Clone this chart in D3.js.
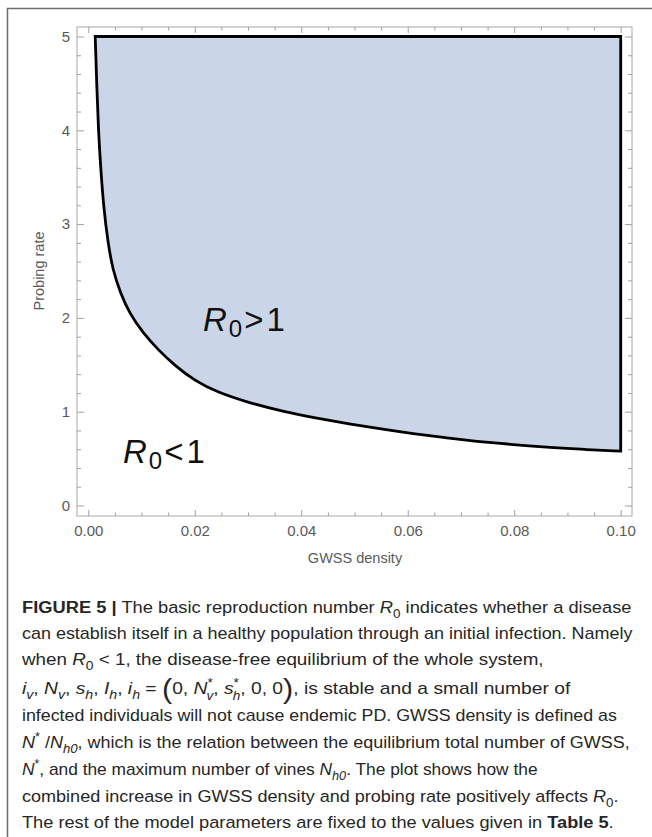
<!DOCTYPE html>
<html>
<head>
<meta charset="utf-8">
<script src="https://cdn.jsdelivr.net/npm/d3@7"></script>
<style>
  html, body { margin: 0; padding: 0; background: #fff; }
  svg { display: block; font-family: "Liberation Sans", Arial, sans-serif; }
</style>
</head>
<body>
<svg id="graf" width="652" height="837"></svg>
<script>
// threshold curve R0 = 1
let gwssDensity = [0.0013, 0.0016, 0.0019, 0.00235, 0.0029, 0.0037, 0.0046, 0.0060, 0.0078,
                   0.0103, 0.0131, 0.0163, 0.0200, 0.0241, 0.0305, 0.0367, 0.0430, 0.0490,
                   0.0550, 0.0610, 0.0673, 0.0736, 0.0798, 0.0861, 0.0923, 0.1000]
let probingRate = [5.00, 4.46, 4.00, 3.58, 3.17, 2.80, 2.51, 2.27, 2.04,
                   1.84, 1.66, 1.49, 1.33, 1.21, 1.09, 1.00, 0.93, 0.87,
                   0.815, 0.765, 0.72, 0.68, 0.65, 0.62, 0.60, 0.58]
let xMajor = [0, 0.02, 0.04, 0.06, 0.08, 0.10]
let xLabels = ['0.00', '0.02', '0.04', '0.06', '0.08', '0.10']
let yMajor = [0, 1, 2, 3, 4, 5]
let yLabels = ['0', '1', '2', '3', '4', '5']
let rTop = 5

function graficar() {
  let svg = d3.select('#graf')
  let frame = {left: 77, right: 632, top: 27, bottom: 516}

  let x = d3.scaleLinear().domain([0, 0.1]).range([88.3, 620.7])
  let y = d3.scaleLinear().domain([0, 5]).range([505.5, 36.5])

  // outer figure border
  svg.append('path')
    .attr('d', 'M7.5,837 V8.5 H652')
    .attr('fill', 'none')
    .attr('stroke', '#6e6e6e')
    .attr('stroke-width', 1.5)

  let datos = gwssDensity.map((d, i) => ({gx: d, pr: probingRate[i]}))

  let area = d3.area()
    .x(d => x(d.gx))
    .y0(y(rTop))
    .y1(d => y(d.pr))
    .curve(d3.curveBasis)

  svg.append('path')
    .datum(datos)
    .attr('d', area)
    .attr('fill', '#cad6e7')
    .attr('stroke', '#000')
    .attr('stroke-width', 2.8)
    .attr('stroke-linejoin', 'miter')

  // frame
  svg.append('rect')
    .attr('x', frame.left).attr('y', frame.top)
    .attr('width', frame.right - frame.left)
    .attr('height', frame.bottom - frame.top)
    .attr('fill', 'none')
    .attr('stroke', '#a8a8a8')
    .attr('stroke-width', 1)

  let xMinor = d3.range(0, 0.1001, 0.005).filter(v => !xMajor.some(m => Math.abs(m - v) < 1e-6))
  let yMinor = d3.range(0, 5.001, 0.2).filter(v => !yMajor.some(m => Math.abs(m - v) < 1e-6))

  function ejes(g, ax) {
    g.call(ax)
    g.select('.domain').remove()
    g.selectAll('line').attr('stroke', '#a0a0a0')
    g.selectAll('text').attr('fill', '#5a5a5a').attr('font-size', 15)
  }

  svg.append('g').attr('transform', `translate(0,${frame.bottom})`)
    .call(g => ejes(g, d3.axisBottom(x).tickValues(xMajor).tickSize(-6).tickPadding(9)
      .tickFormat((d, i) => xLabels[i])))
  svg.append('g').attr('transform', `translate(0,${frame.bottom})`)
    .call(g => ejes(g, d3.axisBottom(x).tickValues(xMinor).tickSize(-3.5).tickFormat('')))
  svg.append('g').attr('transform', `translate(0,${frame.top})`)
    .call(g => ejes(g, d3.axisTop(x).tickValues(xMajor).tickSize(-6).tickFormat('')))
  svg.append('g').attr('transform', `translate(0,${frame.top})`)
    .call(g => ejes(g, d3.axisTop(x).tickValues(xMinor).tickSize(-3.5).tickFormat('')))

  svg.append('g').attr('transform', `translate(${frame.left},0)`)
    .call(g => ejes(g, d3.axisLeft(y).tickValues(yMajor).tickSize(-7).tickPadding(7)
      .tickFormat((d, i) => yLabels[i])))
  svg.append('g').attr('transform', `translate(${frame.left},0)`)
    .call(g => ejes(g, d3.axisLeft(y).tickValues(yMinor).tickSize(-4).tickFormat('')))
  svg.append('g').attr('transform', `translate(${frame.right},0)`)
    .call(g => ejes(g, d3.axisRight(y).tickValues(yMajor).tickSize(-7).tickFormat('')))
  svg.append('g').attr('transform', `translate(${frame.right},0)`)
    .call(g => ejes(g, d3.axisRight(y).tickValues(yMinor).tickSize(-4).tickFormat('')))

  // axis titles
  svg.append('text')
    .attr('x', 355).attr('y', 563)
    .attr('text-anchor', 'middle')
    .attr('font-size', 14.5).attr('fill', '#5a5a5a')
    .text('GWSS density')
  svg.append('text')
    .attr('transform', 'translate(44,271) rotate(-90)')
    .attr('text-anchor', 'middle')
    .attr('font-size', 14.5).attr('fill', '#5a5a5a')
    .text('Probing rate')

  // region labels
  function etiqueta(px, py, sign) {
    let t = svg.append('text').attr('x', px).attr('y', py).attr('fill', '#111')
    t.append('tspan').attr('font-size', 33).attr('font-style', 'italic').text('R')
    t.append('tspan').attr('font-size', 24).attr('dx', 2).attr('dy', 6).text('0')
    t.append('tspan').attr('font-size', 33).attr('dx', 2).attr('dy', -6).text(sign)
    t.append('tspan').attr('font-size', 33).attr('dx', 3).text('1')
  }
  etiqueta(203, 331, '>')
  etiqueta(123, 463, '<')

  // caption
  let I = 'i', S = 'sub', P = 'sup', B = 'b', N = 'n'
  let lineas = [
    {yb: 613, right: 632, seg: [['FIGURE 5 |', B], [' The basic reproduction number ', N], ['R', I], ['0', S], [' indicates whether a disease', N]]},
    {yb: 639, right: 633, seg: [['can establish itself in a healthy population through an initial infection. Namely', N]]},
    {yb: 665, right: 544, seg: [['when ', N], ['R', I], ['0', S], [' < 1, the disease-free equilibrium of the whole system,', N]]},
    {yb: 694, right: 583, seg: [['i', I], ['v', S + I], [', ', N], ['N', I], ['v', S + I], [', ', N], ['s', I], ['h', S + I], [', ', N],
      ['I', I], ['h', S + I], [', ', N], ['i', I], ['h', S + I], [' = ', N], ['(', 'big'], ['0, ', N],
      ['N', I], ['*', P], ['v', 'stack'], [', ', N], ['s', I], ['*', P], ['h', 'stack'], [', 0, 0', N], [')', 'big'],
      [', is stable and a small number of', N]]},
    {yb: 721, right: 617, seg: [['infected individuals will not cause endemic PD. GWSS density is defined as', N]]},
    {yb: 748, right: 630, seg: [['N', I], ['*', P], [' /', N], ['N', I], ['h0', S + I], [', which is the relation between the equilibrium total number of GWSS,', N]]},
    {yb: 775, right: 538, seg: [['N', I], ['*', P], [', and the maximum number of vines ', N], ['N', I], ['h0', S + I], ['. The plot shows how the', N]]},
    {yb: 802, right: 619, seg: [['combined increase in GWSS density and probing rate positively affects ', N], ['R', I], ['0', S], ['.', N]]},
    {yb: 828, right: 614, seg: [['The rest of the model parameters are fixed to the values given in ', N], ['Table 5', B], ['.', N]]}
  ]

  lineas.forEach(l => {
    let t = svg.append('text')
      .attr('x', 0).attr('y', 0)
      .attr('font-size', 17).attr('fill', '#262626')
    let shift = 0
    l.seg.forEach(s => {
      let kind = s[1]
      let ts = t.append('tspan').text(s[0])
      let target = 0
      if (kind.indexOf('i') >= 0 && kind !== 'big') ts.attr('font-style', 'italic')
      if (kind === B) ts.attr('font-weight', 'bold')
      if (kind.indexOf(S) === 0) { ts.attr('font-size', 12.5); target = 5 }
      if (kind === P) { ts.attr('font-size', 12); target = -7 }
      if (kind === 'stack') { ts.attr('font-size', 12).attr('font-style', 'italic').attr('dx', -5.5); target = 6 }
      if (kind === 'big') { ts.attr('font-size', 27).attr('font-weight', 300); target = 4 }
      if (target !== shift) ts.attr('dy', target - shift)
      shift = target
    })
    let w = t.node().getComputedTextLength()
    let sx = (l.right - 22) / w
    t.attr('transform', `translate(22,${l.yb}) scale(${sx},1)`)
  })
}

graficar()
</script>
</body>
</html>
